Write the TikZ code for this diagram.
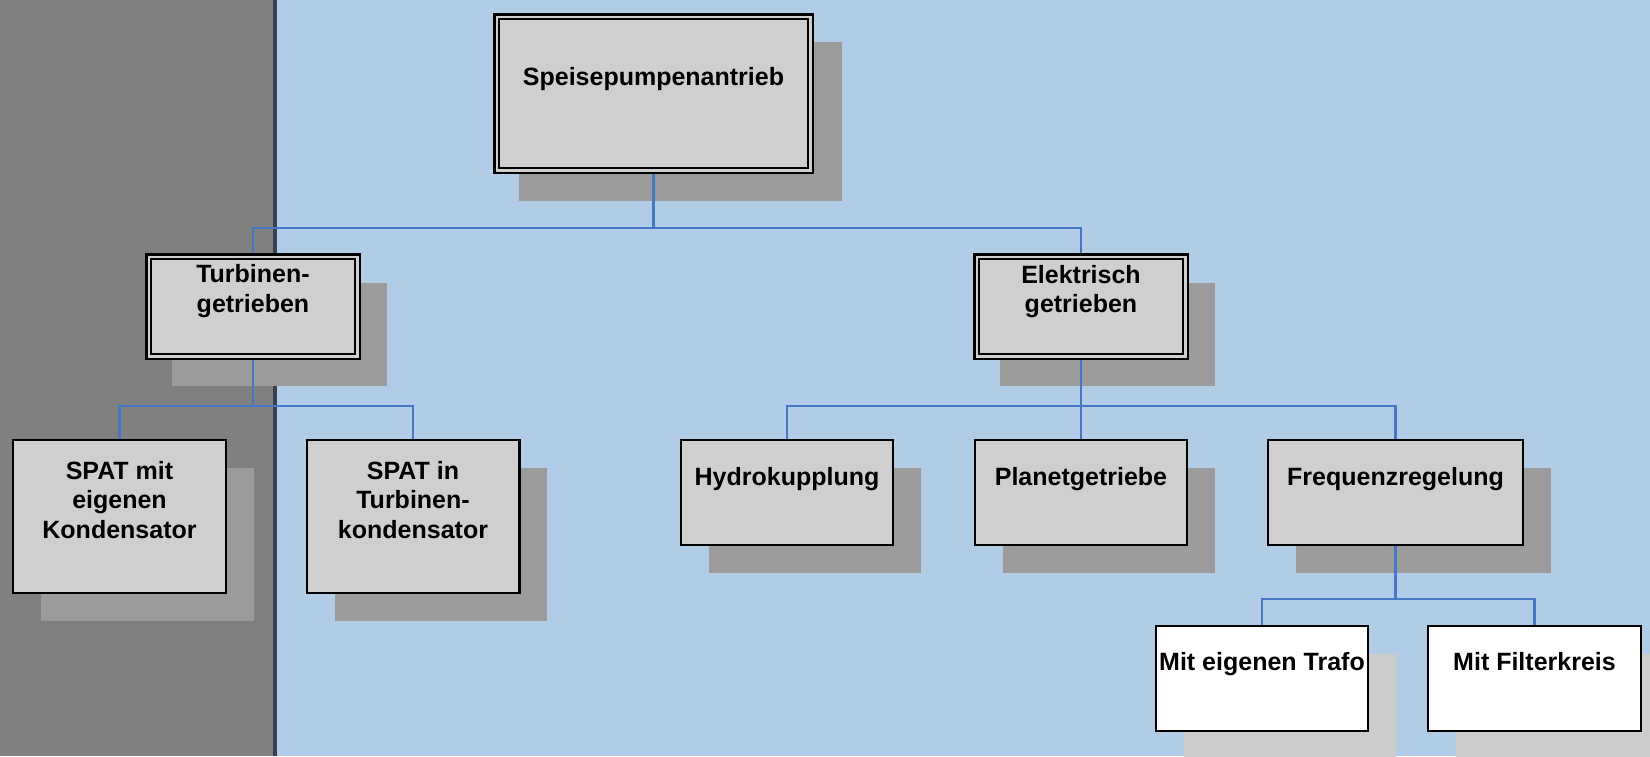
\documentclass[tikz,border=0pt]{standalone}
\usepackage{fontspec}
\setmainfont{Liberation Sans}
\usetikzlibrary{shadows}
\definecolor{bgblue}{RGB}{176,204,230}
\definecolor{panelgray}{RGB}{128,128,128}
\definecolor{panelline}{RGB}{58,64,74}
\definecolor{boxgray}{RGB}{207,207,207}
\definecolor{shadegray}{RGB}{155,155,155}
\definecolor{lightshade}{RGB}{204,204,204}
\definecolor{linkblue}{RGB}{70,118,198}

\begin{document}
\begin{tikzpicture}[x=1pt,y=-1pt,
	plain/.style={draw=black,line width=2.4pt,inner sep=0,outer sep=1.2pt},
	box/.style={plain,fill=boxgray,drop shadow={shadow xshift=28pt,shadow yshift=-28pt,fill=shadegray,opacity=1}},
	wbox/.style={plain,fill=white,drop shadow={shadow xshift=28pt,shadow yshift=-28pt,fill=lightshade,opacity=1}},
	dbox/.style={plain,fill=boxgray,line width=2.5pt,double=boxgray,double distance=2.2pt,outer sep=3.6pt,
		drop shadow={shadow xshift=26pt,shadow yshift=-27pt,shadow scale=1.03,fill=shadegray,opacity=1}},
	conn/.style={draw=linkblue,line width=2.2pt},
	lbl/.style={font=\fontsize{25}{29.5}\selectfont\bfseries,align=center,inner sep=0}]
	  \useasboundingbox (0,0) rectangle (1650,756);
	  \fill[bgblue] (0,0) rectangle (1650,756);
	  \fill[panelgray] (0,0) rectangle (273,756);
	  \draw[panelline,line width=3.5pt] (275,0) -- (275,756);
	  \node[dbox,minimum width=313.8,minimum height=153.8] (spp) at (653.5,93.5) {};
	  \node[dbox,minimum width=208.8,minimum height=99.8] (tur) at (253,306.5) {};
	  \node[dbox,minimum width=208.8,minimum height=99.8] (ele) at (1081,306.5) {};
	  \node[box,minimum width=212.6,minimum height=152.6] (spm) at (119.5,516.5) {};
	  \node[box,minimum width=212.6,minimum height=152.6] (spi) at (413,516.5) {};
	  \node[box,minimum width=211.6,minimum height=104.6] (hyd) at (787,492.5) {};
	  \node[box,minimum width=211.6,minimum height=104.6] (pla) at (1081,492.5) {};
	  \node[box,minimum width=254.6,minimum height=104.6] (fre) at (1395.5,492.5) {};
	  \node[wbox,minimum width=211.6,minimum height=104.6] (mtr) at (1262,678.5) {};
	  \node[wbox,minimum width=212.6,minimum height=104.6] (mfi) at (1534.5,678.5) {};
	  \coordinate (j1) at (653.5,228);
	  \coordinate (j2) at (253,406);
	  \coordinate (j3) at (1081,406);
	  \coordinate (j4) at (1395.5,599);
	  \draw[conn] (spp.south) -- (j1);
	  \draw[conn] (tur.north) |- (j1) -| (ele.north);
	  \draw[conn] (tur.south) -- (j2);
	  \draw[conn] (spm.north) |- (j2) -| (spi.north);
	  \draw[conn] (ele.south) -- (j3);
	  \draw[conn] (hyd.north) |- (j3) -| (fre.north);
	  \draw[conn] (j3) -- (pla.north);
	  \draw[conn] (fre.south) -- (j4);
	  \draw[conn] (mtr.north) |- (j4) -| (mfi.north);
	  \node[lbl,anchor=base] (spp-t) at (653.5,85) {Speisepumpenantrieb};
	  \node[lbl] (tur-t) at (253,291) {Turbinen-\\getrieben};
	  \node[lbl] (ele-t) at (1081,291.5) {Elektrisch\\getrieben};
	  \node[lbl] (spm-t) at (119.5,500) {SPAT mit\\eigenen\\Kondensator};
	  \node[lbl] (spi-t) at (413,500) {SPAT in\\Turbinen-\\kondensator};
	  \node[lbl,anchor=base] (hyd-t) at (787,485) {Hydrokupplung};
	  \node[lbl,anchor=base] (pla-t) at (1081,485) {Planetgetriebe};
	  \node[lbl,anchor=base] (fre-t) at (1395.5,485.5) {Frequenzregelung};
	  \node[lbl,anchor=base] (mtr-t) at (1262,670.5) {Mit eigenen Trafo};
	  \node[lbl,anchor=base] (mfi-t) at (1534.5,670.5) {Mit Filterkreis};
\end{tikzpicture}
\end{document}
